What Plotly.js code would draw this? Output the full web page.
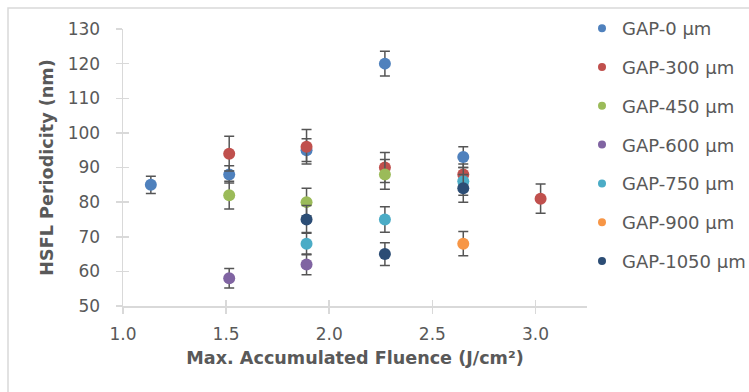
<!DOCTYPE html>
<html>
<head>
<meta charset="utf-8">
<script src="https://cdn.plot.ly/plotly-3.0.1.min.js"></script>
<style>html,body{margin:0;padding:0;background:#fff;}#chart{width:749px;height:392px;}</style>
</head>
<body>
<div id="chart"></div>
<script>
// ---- data ----
const seriesNames = ["GAP-0 µm","GAP-300 µm","GAP-450 µm","GAP-600 µm","GAP-750 µm","GAP-900 µm","GAP-1050 µm"];
const gap0_x    = [1.135, 1.515, 1.89, 2.27, 2.65];
const gap0_y    = [85, 88, 95, 120, 93];
const gap0_err  = [2.5, 2.5, 3.3, 3.6, 3];
const gap300_x  = [1.515, 1.89, 2.27, 2.65, 3.025];
const gap300_y  = [94, 96, 90, 88, 81];
const gap300_err= [5, 5, 4.3, 3, 4.2];
const gap450_x  = [1.515, 1.89, 2.27];
const gap450_y  = [82, 80, 88];
const gap450_err= [4, 4, 4.3];
const gap600_x  = [1.515, 1.89];
const gap600_y  = [58, 62];
const gap600_err= [2.8, 3];
const gap750_x  = [1.89, 2.27, 2.65];
const gap750_y  = [68, 75, 86];
const gap750_err= [3.2, 3.7, 4];
const gap900_x  = [2.65];
const gap900_y  = [68];
const gap900_err= [3.5];
const gap1050_x = [1.89, 2.27, 2.65];
const gap1050_y = [75, 65, 84];
const gap1050_err=[4, 3.3, 4];
const xTickVals = [1.0, 1.5, 2.0, 2.5, 3.0];
const xTickText = ["1.0", "1.5", "2.0", "2.5", "3.0"];
const yTickVals = [50, 60, 70, 80, 90, 100, 110, 120, 130];

// ---- styling ----
const colors = ["#4F81BD","#C0504D","#9BBB59","#8064A2","#4BACC6","#F79646","#2C4D75"];
const xs = [gap0_x, gap300_x, gap450_x, gap600_x, gap750_x, gap900_x, gap1050_x];
const ys = [gap0_y, gap300_y, gap450_y, gap600_y, gap750_y, gap900_y, gap1050_y];
const es = [gap0_err, gap300_err, gap450_err, gap600_err, gap750_err, gap900_err, gap1050_err];
const FONT = "DejaVu Sans, Open Sans, sans-serif";
const textColor = "#595959";
const axisColor = "#D9D9D9";

const traces = [];
for (let i = 0; i < seriesNames.length; i++) {
  traces.push({
    type: "scatter", mode: "markers", name: seriesNames[i],
    x: xs[i], y: ys[i], showlegend: false, hoverinfo: "x+y",
    marker: {color: colors[i], size: 12},
    error_y: {type: "data", array: es[i], visible: true, color: "#555555", thickness: 1.5, width: 5}
  });
}
// legend entries (smaller symbols)
for (let i = 0; i < seriesNames.length; i++) {
  traces.push({
    type: "scatter", mode: "markers", name: seriesNames[i],
    x: [null], y: [null], showlegend: true, legendgroup: "g" + i,
    marker: {color: colors[i], size: 8}
  });
}
// helper trace for crossing tick overlay axes
traces.push({type: "scatter", mode: "markers", x: [null], y: [null], xaxis: "x2", yaxis: "y2",
  showlegend: false, hoverinfo: "skip"});

const L = 123, R = 162, T = 29, B = 86;
const W = 749, H = 392;
const pw = W - L - R, ph = H - T - B;
const px = v => (v - L) / pw;
const py = v => 1 - (v - T) / ph;

const layout = {
  width: W, height: H,
  margin: {l: L, r: R, t: T, b: B, pad: 0, autoexpand: false},
  paper_bgcolor: "#ffffff", plot_bgcolor: "#ffffff",
  font: {family: FONT, size: 17, color: textColor},
  showlegend: true,
  legend: {x: px(582), y: py(10), xanchor: "left", yanchor: "top", maxheight: 380,
    font: {family: FONT, size: 18, color: textColor},
    tracegroupgap: 12.4, bgcolor: "rgba(0,0,0,0)", borderwidth: 0},
  xaxis: {range: [1.0, 3.25], tickvals: xTickVals, ticktext: xTickText, automargin: false,
    showgrid: false, zeroline: false, showline: true, linecolor: axisColor, linewidth: 1.5,
    ticks: "outside", ticklen: 6, tickcolor: axisColor, tickwidth: 1.5,
    tickfont: {family: FONT, size: 17, color: textColor}, ticklabelstandoff: 6,
    title: {text: "<b>Max. Accumulated Fluence (J/cm²)</b>", font: {family: FONT, size: 17.6, color: textColor}, standoff: 9}},
  yaxis: {range: [50, 130], tickvals: yTickVals, automargin: false,
    showgrid: false, zeroline: false, showline: true, linecolor: axisColor, linewidth: 1.5,
    ticks: "outside", ticklen: 6, tickcolor: axisColor, tickwidth: 1.5,
    tickfont: {family: FONT, size: 17, color: textColor}, ticklabelstandoff: 12,
    title: {text: "<b>HSFL Periodicity (nm)</b>", font: {family: FONT, size: 17.6, color: textColor}, standoff: 9}},
  xaxis2: {overlaying: "x", range: [1.0, 3.25], tickvals: xTickVals, showticklabels: false,
    showgrid: false, zeroline: false, showline: false,
    ticks: "inside", ticklen: 6, tickcolor: axisColor, tickwidth: 1.5},
  yaxis2: {overlaying: "y", range: [50, 130], tickvals: yTickVals, showticklabels: false,
    showgrid: false, zeroline: false, showline: false,
    ticks: "inside", ticklen: 6, tickcolor: axisColor, tickwidth: 1.5},
  shapes: [{type: "rect", xref: "paper", yref: "paper", layer: "below",
    x0: px(8), x1: px(W + 20), y0: py(H + 20), y1: py(8),
    line: {color: axisColor, width: 1.5}, fillcolor: "rgba(0,0,0,0)"}]
};

Plotly.newPlot("chart", traces, layout, {displayModeBar: false, staticPlot: true});
</script>
</body>
</html>
